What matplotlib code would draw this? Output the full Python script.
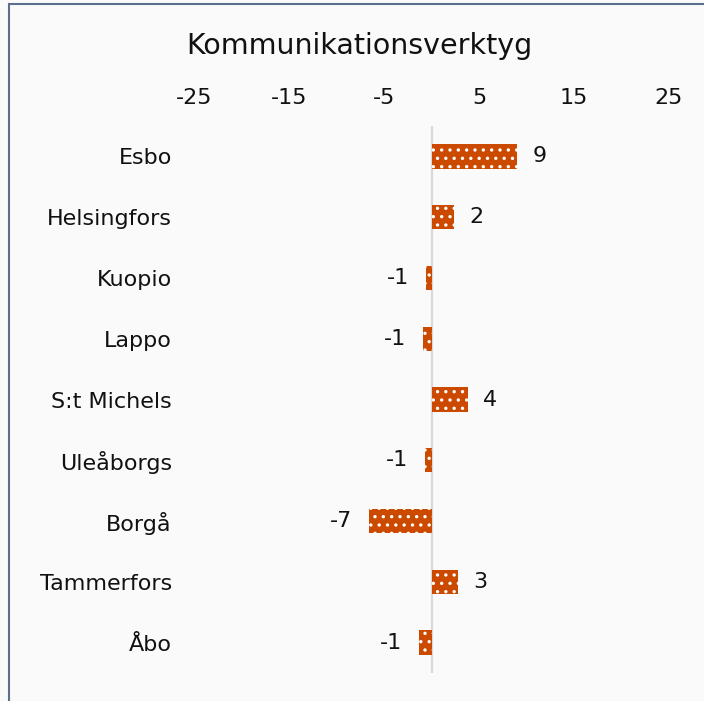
import matplotlib
matplotlib.use("Agg")
import matplotlib.pyplot as plt
from matplotlib.patches import Rectangle

categories = ["Esbo", "Helsingfors", "Kuopio", "Lappo", "S:t Michels",
              "Uleåborgs", "Borgå", "Tammerfors", "Åbo"]
values = [9.0, 2.4, -0.55, -0.9, 3.8, -0.7, -6.6, 2.8, -1.3]
xticks = [-25, -15, -5, 5, 15, 25]
title = "Kommunikationsverktyg"

W, H = 704, 701
plt.rcParams['hatch.color'] = 'white'
plt.rcParams['hatch.linewidth'] = 1.2
fig = plt.figure(figsize=(W / 100, H / 100), dpi=100, facecolor='#fafafa')
ax = fig.add_axes([194 / W, 1 - 673 / H, (669 - 194) / W, (673 - 126) / H])
ax.set_facecolor('#fafafa')

y = list(range(len(categories)))
bars = ax.barh(y, values, height=0.4, color='#cc4a00', edgecolor='white',
               linewidth=0, hatch='..', zorder=2)
ax.axvline(0, color='#d9d9d9', lw=1.6, zorder=1)
ax.set_ylim(len(categories) - 0.5, -0.5)
ax.set_xlim(-25, 25)
ax.set_xticks(xticks)
ax.set_xticklabels([str(t) for t in xticks])
ax.xaxis.tick_top()
ax.set_yticks(y)
ax.set_yticklabels(categories)
ax.tick_params(axis='x', length=0, pad=13, labelsize=16, labelcolor='#111111')
ax.tick_params(axis='y', length=0, pad=16, labelsize=16, labelcolor='#111111')
for s in ax.spines.values():
    s.set_visible(False)

for yi, v in zip(y, values):
    ax.annotate(f"{v:.0f}", xy=(v, yi), xytext=(11 if v >= 0 else -12, 0),
                textcoords='offset points', ha='left' if v >= 0 else 'right',
                va='center', fontsize=16, color='#111111')

fig.text(359 / W, 1 - 46 / H, title, ha='center', va='center', fontsize=20.5,
         color='#111111')

fig.patches.append(Rectangle((8.5 / W, -0.1), 1.2, 1 - 4 / H + 0.1,
                             transform=fig.transFigure, fill=False,
                             edgecolor='#5b6f8c', lw=1.5))

fig.savefig('out.png', dpi=100, facecolor=fig.get_facecolor())
